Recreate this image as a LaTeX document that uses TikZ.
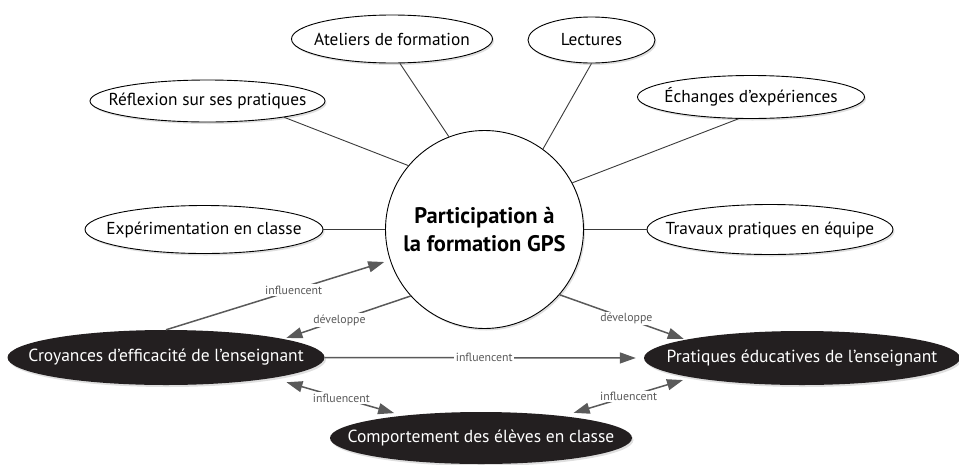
\documentclass[tikz,border=0pt]{standalone}
\usepackage{fontspec}
\setmainfont{PT Sans}
\usetikzlibrary{shapes.geometric,arrows.meta,shadows}
\definecolor{inkfill}{HTML}{231F20}
\definecolor{linkgray}{HTML}{5A5A5A}
\definecolor{spokegray}{HTML}{3A3A3A}

\begin{document}
\begin{tikzpicture}[x=1pt,y=-1pt]
  \tikzset{
    topic/.style={ellipse,draw=black,line width=.9pt,fill=white,inner xsep=-40pt,inner ysep=0pt,
      font=\fontsize{17.3}{20}\selectfont,
      drop shadow={shadow xshift=1.5pt,shadow yshift=-2pt,opacity=.25}},
    actor/.style={ellipse,fill=inkfill,text=white,inner xsep=-40pt,inner ysep=0pt,
      font=\fontsize{17.5}{20}\selectfont,
      drop shadow={shadow xshift=1.5pt,shadow yshift=-2pt,opacity=.25}},
    hub/.style={circle,draw=black,line width=.9pt,fill=white,minimum size=198pt,
      inner sep=0pt,align=center,font=\bfseries\fontsize{22.5}{27.5}\selectfont,
      drop shadow={shadow xshift=1.5pt,shadow yshift=-2pt,opacity=.25}},
    spoke/.style={draw=spokegray,line width=.9pt},
    link/.style={draw=linkgray,line width=1.5pt,-{Triangle[length=16pt,width=11pt]}},
    twoway/.style={link,{Triangle[length=16pt,width=11pt]}-{Triangle[length=16pt,width=11pt]}},
    verb/.style={fill=white,inner sep=1.5pt,text=linkgray,font=\fontsize{11.8}{13}\selectfont}
  }
  \useasboundingbox (0,0) rectangle (959,464);

  % centre
  \node[hub] (gps) at (484.5,229.5) {Participation à\\la formation GPS};

  % activities
  \node[topic,minimum width=235pt,minimum height=42pt] (refl) at (207.5,101) {Réflexion sur ses pratiques};
  \node[topic,minimum width=201pt,minimum height=48pt] (atel) at (392,39) {Ateliers de formation};
  \node[topic,minimum width=127pt,minimum height=46pt] (lect) at (591.5,40) {Lectures};
  \node[topic,minimum width=227pt,minimum height=43pt] (ech) at (751,97) {Échanges d’expériences};
  \node[topic,minimum width=238pt,minimum height=48pt] (exp) at (204,229.5) {Expérimentation en classe};
  \node[topic,minimum width=246pt,minimum height=50pt] (trav) at (770,229.5) {Travaux pratiques en équipe};

  % outcomes
  \node[actor,minimum width=317pt,minimum height=55pt] (croy) at (166,357.5) {Croyances d’efficacité de l’enseignant};
  \node[actor,minimum width=316pt,minimum height=54pt] (prat) at (802,358) {Pratiques éducatives de l’enseignant};
  \node[actor,minimum width=302pt,minimum height=52pt] (comp) at (481,438) {Comportement des élèves en classe};

  \draw[spoke] (refl.-12) -- (gps.140);
  \draw[spoke] (atel.-72) -- (gps.111.5);
  \draw[spoke] (lect.south) -- (gps.54.7);
  \draw[spoke] (ech.-120) -- (gps.28.2);
  \draw[spoke] (exp.east) -- (gps.west);
  \draw[spoke] (trav.west) -- (gps.east);

  \draw[link,shorten >=6pt] (croy.north) -- node[verb,pos=.57] {influencent} (gps.198.6);
  \draw[link,shorten >=3pt] (gps.222) -- node[verb,pos=.56] {développe} (croy.9);
  \draw[link,shorten >=2pt] (gps.-41) -- node[verb,pos=.53] {développe} (prat.171);
  \draw[link,shorten >=8pt] (croy.east) -- node[verb] {influencent} (prat.west);
  \draw[twoway,shorten <=15pt,shorten >=9pt] (croy.-11) -- node[verb,pos=.53] {influencent} (comp.164);
  \draw[twoway,shorten <=9pt,shorten >=11pt] (prat.190) -- node[verb,pos=.49] {influencent} (comp.15);
\end{tikzpicture}
\end{document}
